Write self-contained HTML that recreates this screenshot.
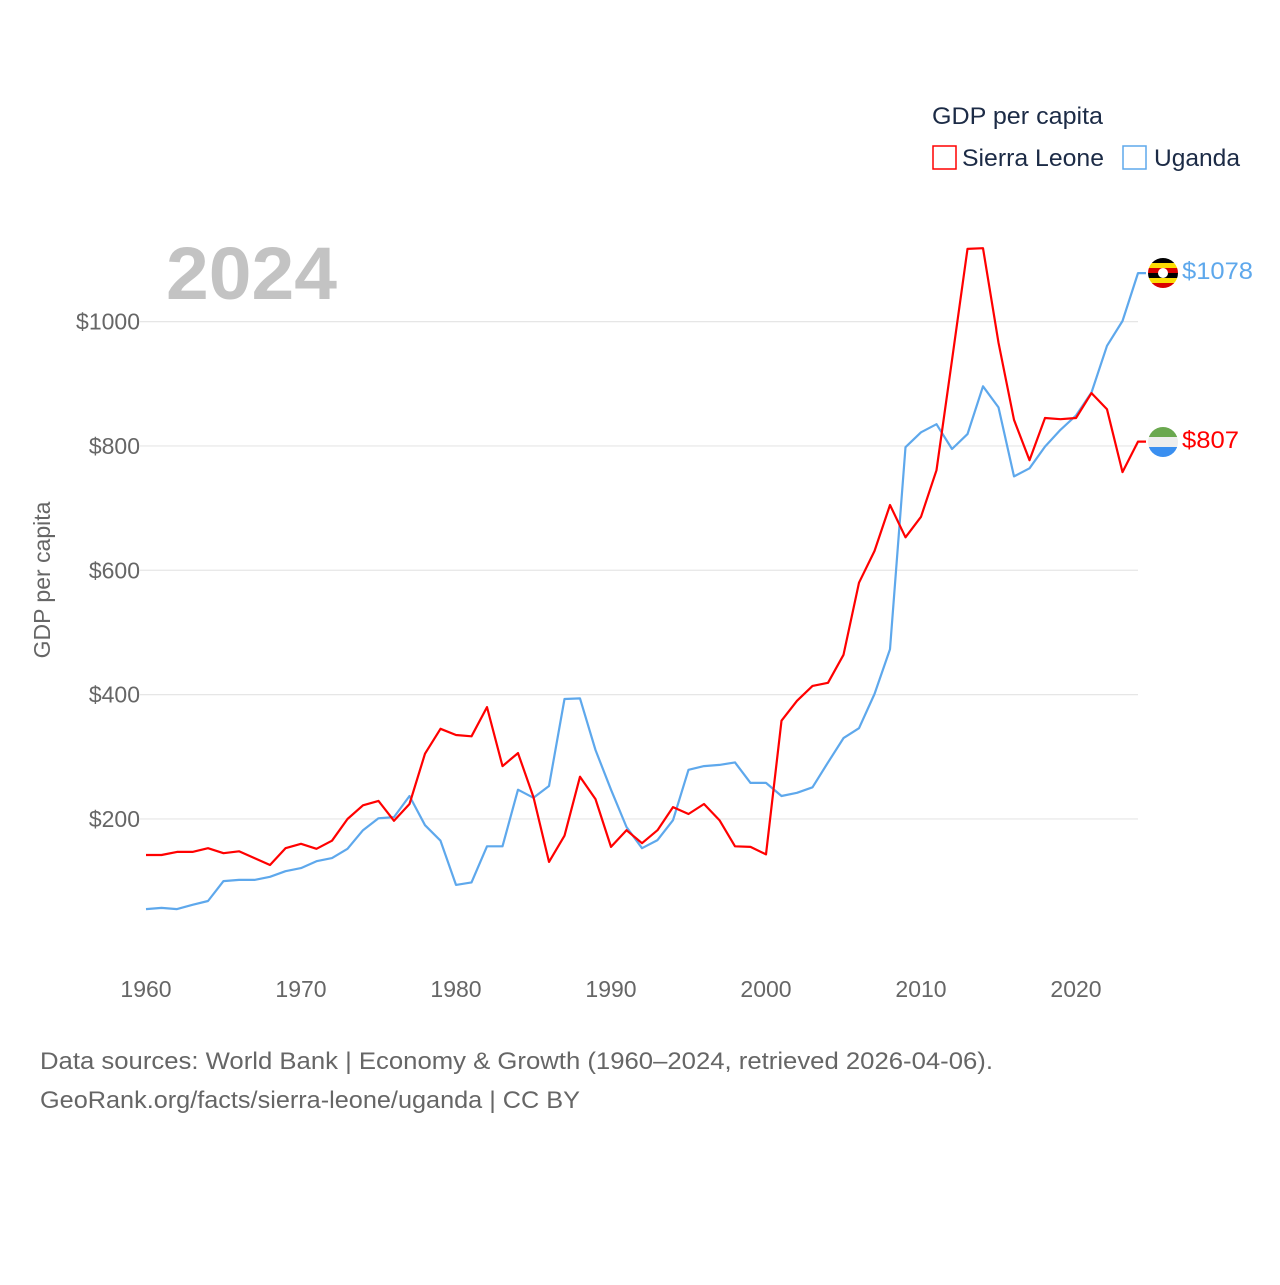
<!DOCTYPE html>
<html><head><meta charset="utf-8"><style>
body{margin:0;background:#fff;}
svg text{font-family:"Liberation Sans",sans-serif;}
</style></head><body>
<svg width="1280" height="1280" viewBox="0 0 1280 1280">
<g id="grid"></g>
<g id="yticks"></g>
<g id="xticks"></g>
<text x="166" y="299" font-size="74" font-weight="bold" fill="#c3c3c3" textLength="171" lengthAdjust="spacingAndGlyphs">2024</text>
<text transform="translate(50,580) rotate(-90)" text-anchor="middle" font-size="23" fill="#666">GDP per capita</text>
<g>
<text x="932" y="124" font-size="24" fill="#1c2b46" textLength="171" lengthAdjust="spacingAndGlyphs">GDP per capita</text>
<rect x="933" y="146" width="23" height="23" fill="none" stroke="#f00" stroke-width="1.5"/>
<text x="962" y="166" font-size="24" fill="#1c2b46" textLength="142" lengthAdjust="spacingAndGlyphs">Sierra Leone</text>
<rect x="1123" y="146" width="23" height="23" fill="none" stroke="#5ea8ec" stroke-width="1.5"/>
<text x="1154" y="166" font-size="24" fill="#1c2b46" textLength="86" lengthAdjust="spacingAndGlyphs">Uganda</text>
</g>
<g id="series"></g>
<g>
<clipPath id="cu"><circle cx="1163" cy="273" r="15"/></clipPath>
<g clip-path="url(#cu)">
<rect x="1148" y="258" width="30" height="5" fill="#000"/><rect x="1148" y="263" width="30" height="5" fill="#fcdc04"/>
<rect x="1148" y="268" width="30" height="5" fill="#d90000"/><rect x="1148" y="273" width="30" height="5" fill="#000"/>
<rect x="1148" y="278" width="30" height="5" fill="#fcdc04"/><rect x="1148" y="283" width="30" height="5" fill="#d90000"/>
<circle cx="1163" cy="273" r="5" fill="#fff"/></g></g>
<g>
<clipPath id="cs"><circle cx="1163" cy="442" r="15"/></clipPath>
<g clip-path="url(#cs)">
<rect x="1148" y="427" width="30" height="10" fill="#6aa84f"/><rect x="1148" y="437" width="30" height="10" fill="#eee"/>
<rect x="1148" y="447" width="30" height="10" fill="#3a8ff0"/></g></g>
<text x="1182" y="279" font-size="24" fill="#5ea8ec" textLength="71" lengthAdjust="spacingAndGlyphs">$1078</text>
<text x="1182" y="448" font-size="24" fill="#f00" textLength="57" lengthAdjust="spacingAndGlyphs">$807</text>
<text x="40" y="1069" font-size="24" fill="#666" textLength="953" lengthAdjust="spacingAndGlyphs">Data sources: World Bank | Economy &amp; Growth (1960–2024, retrieved 2026-04-06).</text>
<text x="40" y="1108" font-size="24" fill="#666" textLength="540" lengthAdjust="spacingAndGlyphs">GeoRank.org/facts/sierra-leone/uganda | CC BY</text>
</svg>
<script>
const years = [];for(let y=1960;y<=2024;y++)years.push(y);
const sierraLeone = [142,142,147,147,153,145,148,137,126,153,160,152,165,200,222,229,197,224,305,345,335,333,380,285,306,235,131,173,268,232,155,182,161,182,219,208,224,198,156,155,143,358,390,414,419,464,580,631,705,653,686,761,938,1117,1118,966,842,777,845,843,845,885,859,758,807];
const uganda = [55,57,55,62,68,100,102,102,107,116,121,132,137,152,182,201,203,237,190,165,94,98,156,156,247,234,253,393,394,311,247,187,153,166,198,279,285,287,291,258,258,237,242,251,291,330,346,401,473,798,822,835,795,819,896,862,751,764,799,826,849,886,961,1001,1078];
const yTicks = [200,400,600,800,1000];
const xTicks = [1960,1970,1980,1990,2000,2010,2020];
const NS='http://www.w3.org/2000/svg';
const xs = yr => 146 + (yr-1960)*15.5;
const ys = v => 943.3 - v*0.6217;
function mk(tag,attrs,parent){const e=document.createElementNS(NS,tag);for(const k in attrs)e.setAttribute(k,attrs[k]);parent.appendChild(e);return e;}
const grid=document.getElementById('grid'),yt=document.getElementById('yticks'),xt=document.getElementById('xticks'),se=document.getElementById('series');
yTicks.forEach(v=>{
  const l=mk('line',{x1:140,x2:1138,y1:ys(v),y2:ys(v),stroke:'#e6e6e6','stroke-width':1.2},grid);
  
  
  const t=mk('text',{x:140,y:ys(v)+8,'text-anchor':'end','font-size':23,fill:'#666'},yt);
  t.textContent='$'+v;
  
  
});
xTicks.forEach(yr=>{
  const t=mk('text',{x:xs(yr),y:997,'text-anchor':'middle','font-size':23,fill:'#666'},xt);
  t.textContent=yr;
  
  
});
function line(data,color,name){
  const pts=data.map((v,i)=>xs(years[i]).toFixed(1)+','+ys(v).toFixed(1));
  const last=data[data.length-1];
  pts.push((xs(years[years.length-1])+8)+','+ys(last).toFixed(1));
  const p=mk('polyline',{points:pts.join(' '),fill:'none',stroke:color,'stroke-width':2.2,'stroke-linejoin':'round'},se);
  
  
}
line(uganda,'#5ea8ec','series-uganda');
line(sierraLeone,'#f00','series-sierra-leone');
</script>
</body></html>
